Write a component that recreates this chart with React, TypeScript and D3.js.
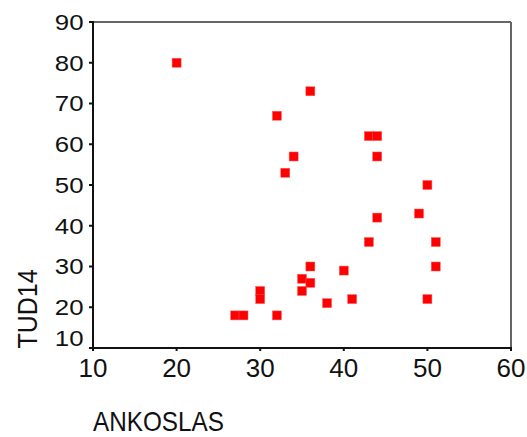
import React from "react";
import * as d3 from "d3";

// ANKOSLAS vs TUD14 scatter
const ankoslas = [20, 36, 32, 43, 44, 34, 44, 33, 50, 49, 44, 43, 51, 51, 36, 40, 35, 36, 35, 30, 30, 41, 50, 38, 32, 27, 28];
const tud14 = [80, 73, 67, 62, 62, 57, 57, 53, 50, 43, 42, 36, 36, 30, 30, 29, 27, 26, 24, 24, 22, 22, 22, 21, 18, 18, 18];

const xTicks = [10, 20, 30, 40, 50, 60];
const yTicks = [10, 20, 30, 40, 50, 60, 70, 80, 90];

const xLabel = "ANKOSLAS";
const yLabel = "TUD14";

const W = 527;
const H = 437;
const font = "'Liberation Sans', Arial, sans-serif";

export default function App() {
  const x = d3.scaleLinear().domain([10, 60]).range([93, 511]);
  const y = d3.scaleLinear().domain([10, 90]).range([348, 22]);
  const [x0, x1] = x.range();
  const [y0, y1] = y.range();
  const m = 9;

  return (
    <div style={{ position: "absolute", left: 0, top: 0 }}>
      <svg width={W} height={H} style={{ display: "block", background: "#fff" }}>
        {/* frame: top and right in grey, axes in black */}
        <line x1={x0} x2={x1} y1={y1} y2={y1} stroke="#666" strokeWidth={2} />
        <line x1={x1} x2={x1} y1={y1} y2={y0} stroke="#666" strokeWidth={2} />
        <line x1={x0} x2={x0} y1={y1 - 1} y2={y0 + 1} stroke="#111" strokeWidth={2} />
        <line x1={x0 - 1} x2={x1 + 1} y1={y0} y2={y0} stroke="#111" strokeWidth={2} />

        {yTicks.map((t, i) => (
          <g key={"y" + t}>
            <line x1={x0 - 4} x2={x0} y1={y(t)} y2={y(t)} stroke="#111" strokeWidth={2} />
            <text
              transform={`translate(83.5,${y(t) - (i === 0 ? 10 : 0)}) scale(1.2,1)`}
              dy="0.36em"
              textAnchor="end"
              fontFamily={font}
              fontSize={21.5}
              fill="#111"
            >
              {t}
            </text>
          </g>
        ))}

        {xTicks.map((t) => (
          <g key={"x" + t}>
            <line x1={x(t)} x2={x(t)} y1={y0} y2={y0 + 3} stroke="#111" strokeWidth={2} />
            <text
              x={x(t)}
              y={376.5}
              textAnchor="middle"
              fontFamily={font}
              fontSize={26}
              fill="#111"
            >
              {t}
            </text>
          </g>
        ))}

        <text
          transform="translate(93,431) scale(1,1.1)"
          fontFamily={font}
          fontSize={24.3}
          fill="#111"
        >
          {xLabel}
        </text>
        <text
          transform="translate(37,309) rotate(-90) scale(1,1.12)"
          textAnchor="middle"
          fontFamily={font}
          fontSize={25}
          fill="#111"
        >
          {yLabel}
        </text>

        {ankoslas.map((a, i) => (
          <rect
            key={i}
            x={x(a) - m / 2}
            y={y(tud14[i]) - m / 2}
            width={m}
            height={m}
            fill="#ff0000"
            stroke="#ff5a5a"
            strokeWidth={0.5}
          />
        ))}
      </svg>
    </div>
  );
}
